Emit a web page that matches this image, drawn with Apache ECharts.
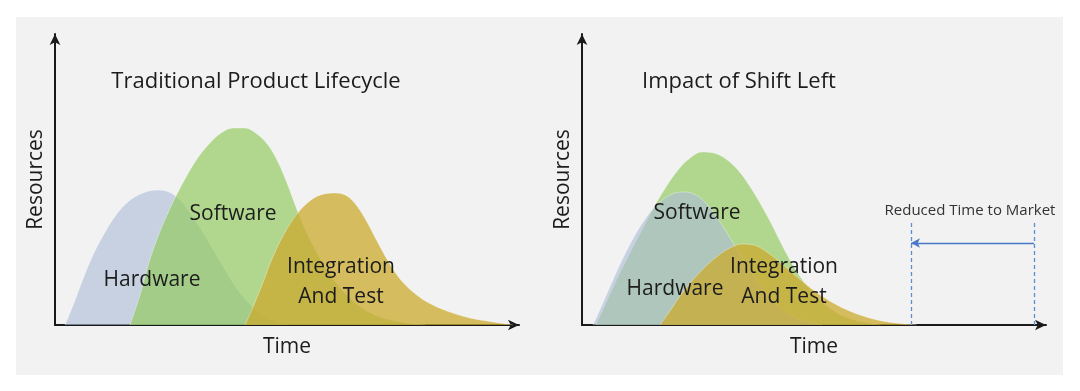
<!DOCTYPE html>
<html>
<head>
<meta charset="utf-8">
<script src="https://cdn.jsdelivr.net/npm/echarts@6/dist/echarts.min.js"></script>
<style>
html,body{margin:0;padding:0;background:#fff;}
#chart{width:1080px;height:391px;}
</style>
</head>
<body>
<div id="chart"></div>
<script>
// ---- data (time offset, resource level) ----
const panelTitles = ['Traditional Product Lifecycle', 'Impact of Shift Left'];
const xAxisName = 'Time';
const yAxisName = 'Resources';
const seriesNames = ['Hardware', 'Software', 'Integration\nAnd Test'];
const annotationText = 'Reduced Time to Market';

const leftHardware = [[10,0],[19,22],[28,46],[38,70],[49,91],[61,110],[74,124],[88,132],[102,135],[114,133],[125,125],[136,111],[147,94],[159,74],[172,52],[185,32],[199,17],[214,7],[232,0]];
const leftSoftware = [[75,0],[85,30],[95,66],[106,96],[118,123],[130,146],[142,166],[154,181],[166,192],[178,197],[190,197],[202,191],[213,180],[223,163],[232,142],[241,118],[250,96],[261,74],[273,53],[287,35],[303,20],[322,9],[345,3],[370,0]];
const leftIntegration = [[190,0],[198,18],[207,40],[217,66],[229,91],[242,111],[256,125],[269,131],[281,132],[292,129],[302,119],[312,103],[322,84],[333,64],[345,46],[358,33],[372,23],[392,14],[415,7],[438,3],[458,0]];

const rightHardware = [[11,0],[20,20],[30,43],[41,67],[53,90],[66,110],[78,123],[90,131],[101,133],[112,131],[123,123],[134,109],[145,92],[156,74],[168,55],[180,37],[193,22],[207,11],[222,4],[240,0]];
const rightSoftware = [[14,0],[24,22],[36,48],[48,72],[60,95],[72,118],[84,138],[96,155],[108,167],[120,173],[132,172],[144,166],[156,155],[167,140],[178,122],[189,102],[200,80],[212,58],[225,39],[240,23],[257,11],[276,4],[298,0]];
const rightIntegration = [[78,0],[88,14],[98,29],[109,43],[121,56],[133,67],[146,76],[160,81],[172,80],[185,73],[199,62],[214,49],[230,36],[246,25],[263,16],[281,9],[300,4],[318,1.5],[335,0]];

const reducedTimeMarks = [329, 452];   // new and old time-to-market on the right time axis
const reducedLineTop = 103;            // height of the dashed guides
const reducedArrowLevel = 82;          // height of the arrow

// ---- styling ----
const cHW = 'rgba(172,189,214,0.62)';
const cSW = 'rgba(150,203,100,0.70)';
const cIT = 'rgba(203,170,46,0.75)';
const textColor = '#1c1c1c';
const FONT = '"Open Sans", sans-serif';

function area(name, data, color, gi, z) {
  return {
    type: 'line', name: name, data: data, xAxisIndex: gi, yAxisIndex: gi,
    smooth: 0.35, symbol: 'none', silent: true, z: z,
    lineStyle: { width: 1, color: 'rgba(255,255,255,0.35)' },
    areaStyle: { color: color, opacity: 1 }
  };
}

function xAx(gi) {
  return {
    type: 'value', gridIndex: gi, min: 0, max: 464,
    name: xAxisName, nameLocation: 'middle', nameGap: 12,
    nameTextStyle: { color: textColor, fontSize: 21, fontFamily: FONT },
    axisLine: { show: true, lineStyle: { color: '#1a1a1a', width: 2 }, symbol: ['none', 'arrow'], symbolSize: [8, 11] },
    axisTick: { show: false }, axisLabel: { show: false }, splitLine: { show: false }
  };
}
function yAx(gi) {
  return {
    type: 'value', gridIndex: gi, min: 0, max: 291,
    name: yAxisName, nameLocation: 'middle', nameGap: 8, nameRotate: 90,
    nameTextStyle: { color: textColor, fontSize: 21, fontFamily: FONT },
    axisLine: { show: true, lineStyle: { color: '#1a1a1a', width: 2 }, symbol: ['none', 'arrow'], symbolSize: [8, 11] },
    axisTick: { show: false }, axisLabel: { show: false }, splitLine: { show: false }
  };
}

function txt(t, x, y, size, color) {
  return { type: 'text', x: x, y: y, z: 100,
    style: { text: t, fill: color || textColor, font: size + 'px ' + FONT, align: 'center', verticalAlign: 'middle', lineHeight: 30 } };
}

const rightIT = area(seriesNames[2], rightIntegration, cIT, 1, 6);
const dash = { type: [4, 3], color: '#5b8bd0', width: 1.3 };
rightIT.markLine = {
  silent: true, symbol: ['none', 'none'], animation: false,
  label: { show: false },
  lineStyle: dash,
  data: [
    [{ coord: [reducedTimeMarks[0], 0] }, { coord: [reducedTimeMarks[0], reducedLineTop] }],
    [{ coord: [reducedTimeMarks[1], 0] }, { coord: [reducedTimeMarks[1], reducedLineTop] }],
    [{ coord: [reducedTimeMarks[1], reducedArrowLevel], symbol: 'none', lineStyle: { type: 'solid', color: '#4a78c8', width: 1.3 } },
     { coord: [reducedTimeMarks[0], reducedArrowLevel], symbol: 'arrow', symbolSize: [7, 9] }]
  ]
};

const option = {
  animation: false,
  backgroundColor: '#ffffff',
  grid: [
    { left: 55, top: 34, width: 464, height: 291 },
    { left: 582, top: 34, width: 464, height: 291 }
  ],
  xAxis: [xAx(0), xAx(1)],
  yAxis: [yAx(0), yAx(1)],
  series: [
    area(seriesNames[0], leftHardware, cHW, 0, 2),
    area(seriesNames[1], leftSoftware, cSW, 0, 3),
    area(seriesNames[2], leftIntegration, cIT, 0, 4),
    area(seriesNames[1], rightSoftware, cSW, 1, 4),
    area(seriesNames[0], rightHardware, cHW, 1, 5),
    rightIT
  ],
  graphic: [
    { type: 'rect', z: -100, shape: { x: 16, y: 17, width: 1047, height: 358 }, style: { fill: '#f2f2f2' } },
    txt(panelTitles[0], 256, 82, 22),
    txt(panelTitles[1], 739, 82, 22),
    txt('Software', 233, 214, 21),
    txt('Hardware', 152, 280, 21),
    txt(seriesNames[2], 341, 282, 21),
    txt('Software', 697, 213, 21),
    txt('Hardware', 675, 289, 21),
    txt(seriesNames[2], 784, 282, 21),
    txt(annotationText, 970, 211, 15, '#333333')
  ]
};

const chart = echarts.init(document.getElementById('chart'), null, { renderer: 'canvas' });
chart.setOption(option);
</script>
</body>
</html>
